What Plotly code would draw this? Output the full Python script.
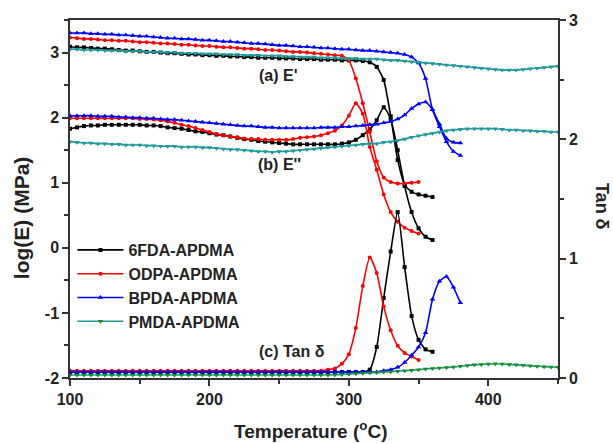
import plotly.graph_objects as go

# Temperature grid (°C)
T = list(range(100, 451, 5))

# Tick labels
x_ticks = [100, 200, 300, 400]
y_ticks = [-2, -1, 0, 1, 2, 3]
y_ticktext = ["-2", "-1", "0", "1", "2", "3"]
y2_ticks = [0, 1, 2, 3]

# ---- log(E') storage modulus (left axis) ----
e1_6fda = [3.09, 3.08, 3.08, 3.07, 3.06, 3.06, 3.05, 3.04, 3.03, 3.03, 3.02, 3.01, 3.01, 3.00, 2.99, 2.99, 2.98, 2.97,
           2.97, 2.96, 2.96, 2.95, 2.95, 2.94, 2.94, 2.93, 2.93, 2.92, 2.92, 2.92, 2.91, 2.91, 2.91, 2.90, 2.90, 2.90,
           2.89, 2.89, 2.89, 2.88, 2.88, 2.88, 2.87, 2.85, 2.78, 2.58, 2.02, 1.35, 0.97, 0.86, 0.82, 0.80, 0.78]
e1_odpa = [3.23, 3.22, 3.21, 3.21, 3.20, 3.19, 3.19, 3.18, 3.18, 3.17, 3.16, 3.16, 3.15, 3.14, 3.14, 3.13, 3.12, 3.12,
           3.11, 3.10, 3.10, 3.09, 3.08, 3.08, 3.07, 3.06, 3.06, 3.05, 3.04, 3.04, 3.03, 3.02, 3.01, 3.01, 3.00, 2.99,
           2.98, 2.97, 2.96, 2.95, 2.88, 2.60, 2.22, 1.78, 1.33, 1.08, 1.01, 0.99, 0.99, 1.00, 1.01]
e1_bpda = [3.30, 3.30, 3.30, 3.29, 3.29, 3.28, 3.28, 3.27, 3.27, 3.26, 3.25, 3.25, 3.24, 3.23, 3.22, 3.22, 3.21, 3.21,
           3.20, 3.19, 3.19, 3.18, 3.17, 3.17, 3.16, 3.15, 3.14, 3.14, 3.13, 3.12, 3.11, 3.11, 3.10, 3.09, 3.09, 3.08,
           3.07, 3.07, 3.06, 3.05, 3.05, 3.04, 3.03, 3.03, 3.02, 3.01, 3.00, 2.99, 2.97, 2.93, 2.84, 2.60, 2.12, 1.86,
           1.63, 1.48, 1.42]
e1_pmda = [3.05, 3.05, 3.04, 3.04, 3.04, 3.03, 3.03, 3.03, 3.02, 3.02, 3.02, 3.01, 3.01, 3.01, 3.00, 3.00, 2.99, 2.99,
           2.99, 2.98, 2.98, 2.98, 2.97, 2.97, 2.97, 2.96, 2.96, 2.96, 2.95, 2.95, 2.95, 2.94, 2.94, 2.93, 2.93, 2.93,
           2.92, 2.92, 2.92, 2.91, 2.91, 2.91, 2.90, 2.90, 2.90, 2.89, 2.88, 2.88, 2.87, 2.86, 2.85, 2.84, 2.83, 2.82,
           2.81, 2.80, 2.79, 2.78, 2.77, 2.76, 2.75, 2.74, 2.73, 2.73, 2.73, 2.74, 2.75, 2.76, 2.77, 2.78, 2.79]

# ---- log(E'') loss modulus (left axis) ----
e2_6fda = [1.83, 1.85, 1.87, 1.88, 1.88, 1.89, 1.89, 1.89, 1.89, 1.89, 1.89, 1.88, 1.88, 1.87, 1.85, 1.84, 1.83, 1.81,
           1.79, 1.78, 1.76, 1.74, 1.73, 1.71, 1.69, 1.67, 1.66, 1.64, 1.63, 1.62, 1.61, 1.60, 1.59, 1.59, 1.59, 1.59,
           1.59, 1.59, 1.59, 1.60, 1.62, 1.66, 1.73, 1.82, 1.96, 2.16, 1.98, 1.50, 0.95, 0.55, 0.30, 0.17, 0.12]
e2_odpa = [1.99, 1.99, 1.99, 1.99, 1.99, 1.99, 1.99, 1.99, 1.99, 1.99, 1.98, 1.98, 1.97, 1.96, 1.94, 1.92, 1.89, 1.87,
           1.84, 1.81, 1.78, 1.75, 1.73, 1.71, 1.70, 1.68, 1.67, 1.67, 1.66, 1.66, 1.66, 1.66, 1.67, 1.69, 1.70, 1.71,
           1.73, 1.76, 1.80, 1.88, 2.03, 2.22, 2.06, 1.55, 1.20, 0.82, 0.55, 0.40, 0.31, 0.26, 0.22]
e2_bpda = [2.03, 2.03, 2.03, 2.03, 2.02, 2.02, 2.02, 2.01, 2.01, 2.00, 2.00, 1.99, 1.99, 1.98, 1.97, 1.97, 1.96, 1.95,
           1.94, 1.93, 1.92, 1.91, 1.90, 1.89, 1.88, 1.87, 1.87, 1.86, 1.85, 1.85, 1.84, 1.84, 1.84, 1.84, 1.84, 1.84,
           1.85, 1.85, 1.85, 1.86, 1.86, 1.87, 1.88, 1.89, 1.90, 1.92, 1.94, 1.98, 2.04, 2.14, 2.21, 2.24, 2.12, 1.90,
           1.68, 1.62, 1.61]
e2_pmda = [1.63, 1.62, 1.61, 1.61, 1.60, 1.60, 1.59, 1.59, 1.58, 1.58, 1.58, 1.57, 1.57, 1.56, 1.56, 1.56, 1.55, 1.55,
           1.55, 1.54, 1.54, 1.53, 1.52, 1.51, 1.51, 1.50, 1.49, 1.48, 1.48, 1.47, 1.48, 1.48, 1.49, 1.50, 1.51, 1.52,
           1.53, 1.54, 1.55, 1.56, 1.57, 1.58, 1.59, 1.60, 1.60, 1.62, 1.63, 1.65, 1.67, 1.70, 1.72, 1.74, 1.76, 1.78,
           1.80, 1.81, 1.82, 1.83, 1.83, 1.83, 1.83, 1.83, 1.82, 1.81, 1.81, 1.80, 1.80, 1.79, 1.79, 1.78, 1.78]

# ---- Tan delta (right axis) ----
td_6fda = [0.05, 0.05, 0.05, 0.05, 0.05, 0.05, 0.05, 0.05, 0.05, 0.05, 0.05, 0.05, 0.05, 0.05, 0.05,
           0.05, 0.05, 0.05, 0.05, 0.05, 0.05, 0.05, 0.05, 0.05, 0.05, 0.05, 0.05, 0.05, 0.05, 0.05, 0.05, 0.05,
           0.05, 0.05, 0.05, 0.05, 0.05, 0.05, 0.05, 0.05, 0.05, 0.05, 0.05, 0.07, 0.26, 0.67, 1.06, 1.39, 0.93,
           0.52, 0.32, 0.24, 0.22]
td_odpa = [0.06, 0.06, 0.06, 0.06, 0.06, 0.06, 0.06, 0.06, 0.06, 0.06, 0.06, 0.06, 0.06, 0.06, 0.06, 0.06, 0.06, 0.06,
           0.06, 0.06, 0.06, 0.06, 0.06, 0.06, 0.06, 0.06, 0.06, 0.06, 0.06, 0.06, 0.06, 0.06, 0.06, 0.06, 0.06, 0.06,
           0.06, 0.07, 0.08, 0.12, 0.20, 0.42, 0.77, 1.01, 0.88, 0.60, 0.40, 0.27, 0.21, 0.18, 0.15]
td_bpda = [0.05, 0.05, 0.05, 0.05, 0.05, 0.05, 0.05, 0.05, 0.05, 0.05, 0.05, 0.05, 0.05, 0.05, 0.05, 0.05, 0.05, 0.05,
           0.05, 0.05, 0.05, 0.05, 0.05, 0.05, 0.05, 0.05, 0.05, 0.05, 0.05, 0.05, 0.05, 0.05, 0.05, 0.05, 0.05, 0.05,
           0.05, 0.05, 0.05, 0.05, 0.05, 0.05, 0.05, 0.05, 0.05, 0.06, 0.07, 0.09, 0.13, 0.19, 0.26, 0.38, 0.66, 0.81,
           0.85, 0.76, 0.63]
td_pmda = [0.025, 0.025, 0.025, 0.025, 0.025, 0.025, 0.025, 0.025, 0.025, 0.025, 0.025, 0.025, 0.025, 0.025, 0.025,
           0.025, 0.025, 0.025, 0.025, 0.025, 0.025, 0.025, 0.025, 0.025, 0.025, 0.025, 0.025, 0.025, 0.025, 0.025,
           0.025, 0.025, 0.025, 0.025, 0.025, 0.025, 0.025, 0.025, 0.027, 0.03, 0.032, 0.035, 0.04, 0.043, 0.046,
           0.05, 0.053, 0.057, 0.06, 0.065, 0.07, 0.075, 0.08, 0.084, 0.088, 0.092, 0.098, 0.105, 0.11, 0.114,
           0.117, 0.119, 0.117, 0.114, 0.11, 0.106, 0.102, 0.098, 0.095, 0.092, 0.09]

names = ["6FDA-APDMA", "ODPA-APDMA", "BPDA-APDMA", "PMDA-APDMA"]
colors = ["#000000", "#ff0000", "#0000ff", "#1f9a9a"]
tan_marker_colors = ["#000000", "#ff0000", "#0000ff", "#1a8f1a"]
symbols = ["square", "circle", "triangle-up", "triangle-down"]
msizes = [4, 4, 5, 5]
E1 = [e1_6fda, e1_odpa, e1_bpda, e1_pmda]
E2 = [e2_6fda, e2_odpa, e2_bpda, e2_pmda]
TD = [td_6fda, td_odpa, td_bpda, td_pmda]

FONT = "Liberation Sans, Arial, sans-serif"
INK = "#222222"
fig = go.Figure()

for i in range(4):
    for series in (E1[i], E2[i]):
        fig.add_trace(go.Scatter(
            x=T[:len(series)], y=series, mode="lines+markers", showlegend=False,
            line=dict(color=colors[i], width=1.6, shape="spline", smoothing=0.6),
            marker=dict(symbol=symbols[i], size=msizes[i], color=colors[i]),
            hoverinfo="skip"))

for i in range(4):
    fig.add_trace(go.Scatter(
        x=T[:len(TD[i])], y=TD[i], yaxis="y2", mode="lines+markers", name=names[i],
        line=dict(color=colors[i], width=1.6, shape="spline", smoothing=0.6),
        marker=dict(symbol=symbols[i], size=msizes[i], color=tan_marker_colors[i]),
        hoverinfo="skip"))

axis_common = dict(showline=True, linecolor="#333333", linewidth=1.5, ticks="outside",
                   tickcolor="#333333", ticklen=6, tickwidth=1.5, showgrid=False, zeroline=False,
                   automargin=False,
                   tickfont=dict(family=FONT, size=16, color=INK, weight="bold"))

def label(text, x, y, size, angle=0):
    return dict(text=text, x=x, y=y, xref="paper", yref="paper", showarrow=False,
                textangle=angle, xanchor="center", yanchor="middle",
                font=dict(family=FONT, size=size, color=INK, weight="bold"))

fig.update_layout(
    width=613, height=444,
    margin=dict(l=70, r=55, t=20, b=66),
    paper_bgcolor="white", plot_bgcolor="white",
    font=dict(family=FONT, color=INK),
    xaxis=dict(range=[100, 450], tickvals=x_ticks, mirror=True,
               minor=dict(ticks="outside", dtick=50, ticklen=4, tickcolor="#333333"),
               **axis_common),
    yaxis=dict(range=[-2, 3.5], tickvals=y_ticks, ticktext=y_ticktext,
               minor=dict(ticks="outside", dtick=0.5, ticklen=4, tickcolor="#333333"),
               **axis_common),
    yaxis2=dict(range=[0, 3], tickvals=y2_ticks, overlaying="y", side="right",
                minor=dict(ticks="outside", dtick=0.5, ticklen=4, tickcolor="#333333"),
                **axis_common),
    legend=dict(x=0.005, y=0.405, xanchor="left", yanchor="top", bgcolor="rgba(0,0,0,0)",
                font=dict(family=FONT, size=16, color=INK, weight="bold"),
                tracegroupgap=0, itemwidth=46),
    annotations=[
        label("(a) E'", 0.426, 0.846, 16),
        label("(b) E''", 0.43, 0.595, 16),
        label("(c) Tan δ", 0.455, 0.073, 16),
        label("Temperature (<sup>o</sup>C)", 0.492, -0.145, 19),
        label("log(E) (MPa)", -0.098, 0.447, 21, -90),
        label("Tan δ", 1.09, 0.478, 18, 90),
    ],
)

fig.write_html("out.html", config={"displayModeBar": False},
               post_script="document.body.style.margin='0';document.body.style.padding='0';")
